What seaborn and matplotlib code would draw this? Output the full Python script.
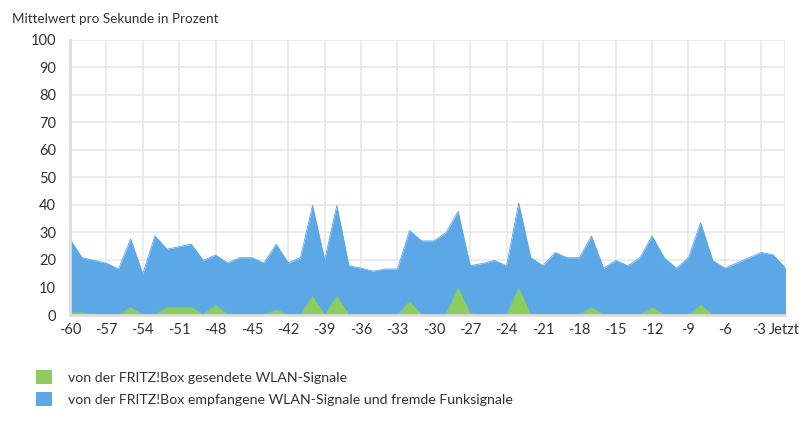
import matplotlib
matplotlib.use("Agg")
import matplotlib.pyplot as plt
from matplotlib.patches import Patch
from matplotlib.transforms import ScaledTranslation
import seaborn as sns
import pandas as pd

seconds = list(range(-60, 0))
received = [27.5, 20.8, 19.8, 18.8, 16.7, 27.6, 14.9, 28.7, 23.9, 24.8,
            25.7, 19.8, 21.8, 18.9, 20.8, 20.8, 18.9, 25.7, 18.9, 20.8,
            39.8, 20.0, 39.8, 17.9, 17.0, 15.9, 16.7, 16.7, 30.7, 26.9,
            26.9, 29.9, 37.6, 17.9, 18.7, 19.8, 17.9, 40.6, 20.8, 17.9,
            22.7, 20.8, 20.8, 28.7, 17.0, 19.8, 17.9, 20.8, 28.7, 20.8,
            17.0, 20.8, 33.6, 19.8, 17.0, 18.9, 20.8, 22.7, 21.8, 17.0]
sent = [0.8, 0.8, 0, 0, 0, 2.8, 0, 0, 2.8, 2.8,
        2.8, 0, 3.6, 0, 0, 0, 0, 1.8, 0, 0,
        6.7, 0, 6.7, 0, 0, 0, 0, 0, 4.8, 0,
        0, 0, 9.7, 0.5, 0, 0, 0, 9.7, 0, 0,
        0, 0, 0, 2.7, 0, 0, 0, 0, 2.7, 0,
        0, 0, 3.6, 0, 0, 0, 0, 0, 0, 0]
xtick_pos = [-60, -57, -54, -51, -48, -45, -42, -39, -36, -33, -30, -27,
             -24, -21, -18, -15, -12, -9, -6, -3, -1]
xtick_labels = ["-60", "-57", "-54", "-51", "-48", "-45", "-42", "-39", "-36",
                "-33", "-30", "-27", "-24", "-21", "-18", "-15", "-12", "-9",
                "-6", "-3", "Jetzt"]
ytick_pos = [0, 10, 20, 30, 40, 50, 60, 70, 80, 90, 100]
title = "Mittelwert pro Sekunde in Prozent"
legend_labels = ["von der FRITZ!Box gesendete WLAN-Signale",
                 "von der FRITZ!Box empfangene WLAN-Signale und fremde Funksignale"]

blue = "#5ca8e6"
green = "#8dcd5e"

df = pd.DataFrame({"t": seconds, "received": received, "sent": sent})

sns.set_theme(style="white")
plt.rcParams["font.family"] = ["Lato", "DejaVu Sans"]

fig = plt.figure(figsize=(8.12, 4.23), dpi=100)
ax = fig.add_axes([70 / 812, 108 / 423, 715.5 / 812, 275.5 / 423])

sns.lineplot(data=df, x="t", y="received", ax=ax, color=blue, linewidth=0.6)
ax.fill_between(df["t"], 0, df["received"], color=blue, linewidth=0, zorder=2)
sns.lineplot(data=df, x="t", y="sent", ax=ax, color=green, linewidth=0.6)
ax.fill_between(df["t"], 0, df["sent"], color=green, linewidth=0, zorder=3)

ax.set_xlim(-60, -1)
ax.set_ylim(0, 100)
ax.set_xticks(xtick_pos)
ax.set_xticklabels(xtick_labels)
ax.set_yticks(ytick_pos)
ax.set_xlabel("")
ax.set_ylabel("")

ax.grid(True, color="#e9e9e9", linewidth=1.2, zorder=0)
ax.set_axisbelow(True)
for s in ["top", "right"]:
    ax.spines[s].set_visible(False)
for s in ["left", "bottom"]:
    ax.spines[s].set_color("#dcdcdc")
    ax.spines[s].set_linewidth(2)
    ax.spines[s].set_zorder(5)

ax.tick_params(axis="both", labelsize=10.5, colors="#333333", length=4,
               width=1, color="#dcdcdc", pad=2)
ax.tick_params(axis="y", pad=6)
last = ax.get_xticklabels()[-1]
last.set_transform(last.get_transform() + ScaledTranslation(-1.5 / 100, 0, fig.dpi_scale_trans))
third = ax.get_xticklabels()[-2]
third.set_transform(third.get_transform() + ScaledTranslation(-2 / 100, 0, fig.dpi_scale_trans))

fig.text(12 / 812, 1 - 19 / 423, title, fontsize=9.7, color="#333333", va="center", ha="left")

handles = [Patch(facecolor=green, edgecolor="none"), Patch(facecolor=blue, edgecolor="none")]
fig.legend(handles, legend_labels, loc="upper left", bbox_to_anchor=(36 / 812, 1 - 370 / 423),
           frameon=False, fontsize=10.2, handlelength=1.13, handleheight=1.13,
           handletextpad=1.1, labelspacing=0.58, labelcolor="#333333",
           borderpad=0, borderaxespad=0)

fig.savefig("out.png", dpi=100)
